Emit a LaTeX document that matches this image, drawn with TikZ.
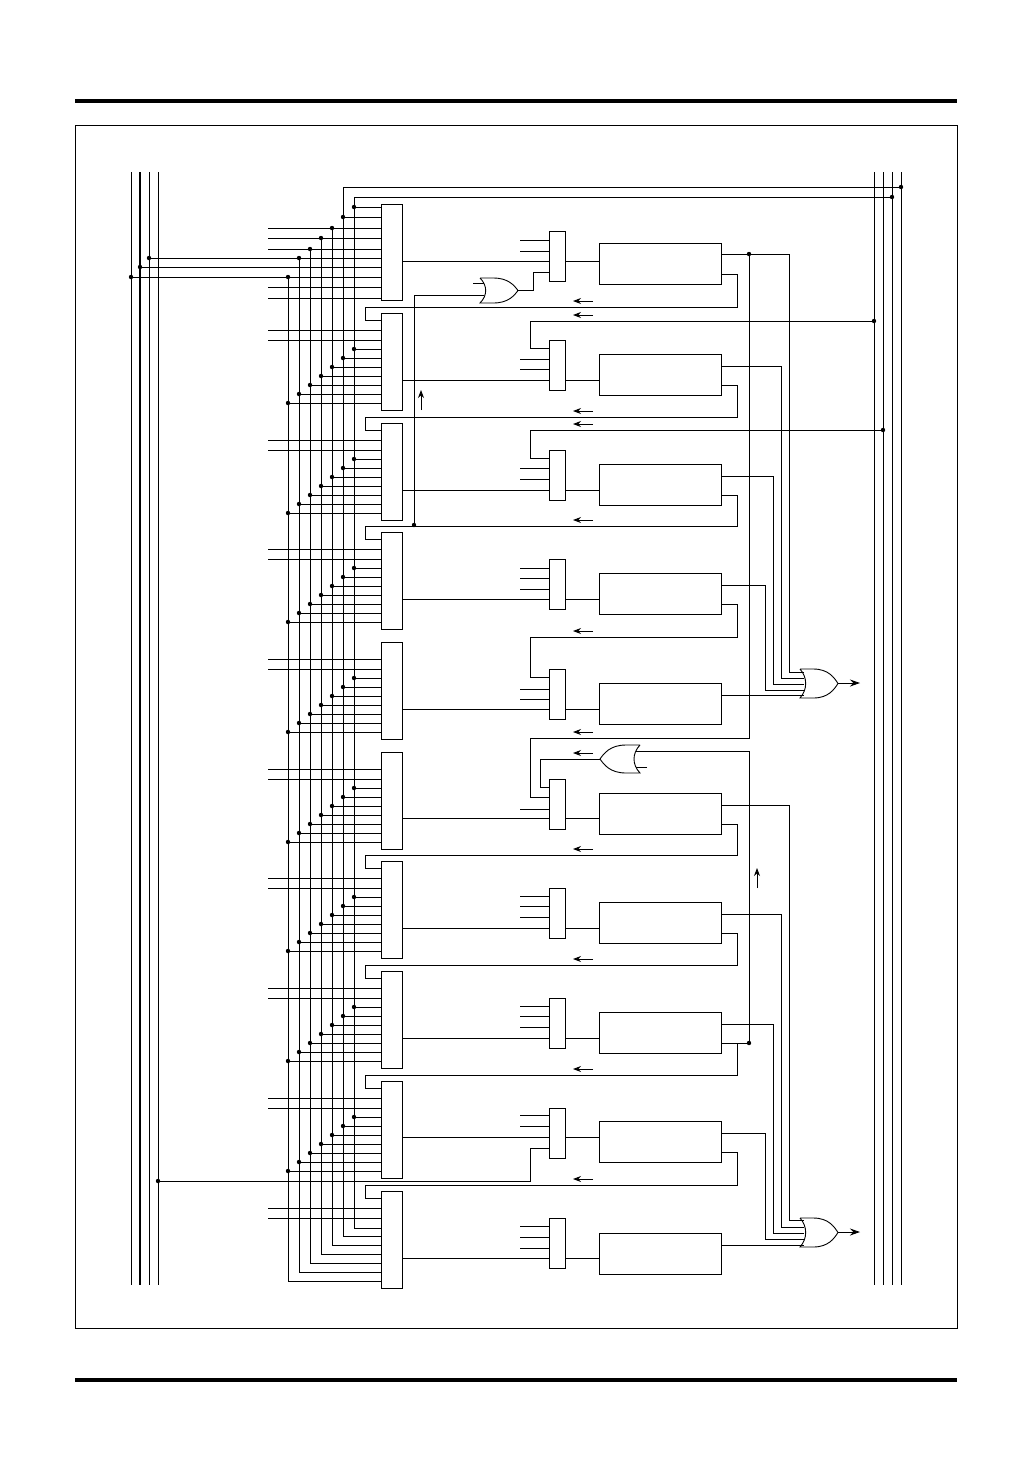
\documentclass[tikz,border=0pt]{standalone}
\usetikzlibrary{arrows.meta}
\newcommand\org[4]{% left x, top y, width, height
  \draw[wire] (#1,#2) -- ({#1+0.35*#3},#2) .. controls ({#1+0.75*#3},#2) and ({#1+0.9*#3},{#2+0.3*#4}) .. ({#1+#3},{#2+0.5*#4})
   .. controls ({#1+0.9*#3},{#2+0.7*#4}) and ({#1+0.75*#3},{#2+#4}) .. ({#1+0.35*#3},{#2+#4}) -- (#1,{#2+#4})
   .. controls ({#1+0.2*#3},{#2+0.7*#4}) and ({#1+0.2*#3},{#2+0.3*#4}) .. (#1,#2);}
\newcommand\orf[4]{% mirrored: right x, top y, width, height
  \draw[wire] (#1,#2) -- ({#1-0.35*#3},#2) .. controls ({#1-0.75*#3},#2) and ({#1-0.9*#3},{#2+0.3*#4}) .. ({#1-#3},{#2+0.5*#4})
   .. controls ({#1-0.9*#3},{#2+0.7*#4}) and ({#1-0.75*#3},{#2+#4}) .. ({#1-0.35*#3},{#2+#4}) -- (#1,{#2+#4})
   .. controls ({#1-0.2*#3},{#2+0.7*#4}) and ({#1-0.2*#3},{#2+0.3*#4}) .. (#1,#2);}
\begin{document}
\begin{tikzpicture}[x=0.5pt,y=-0.5pt,
  wire/.style={line width=0.45pt},
  dotj/.style={fill,circle,inner sep=0pt,minimum size=2.2pt},
  larr/.style={wire,-{Stealth[length=4pt,width=3pt]}},
  box/.style={wire}]
\useasboundingbox (0,0) rectangle (1032,1458);
% rules and frame
\draw[line width=1.6pt] (75,101) -- (957,101);
\draw[line width=1.6pt] (75,1380) -- (957,1380);
\draw[wire] (75,125) rectangle (957,1328);
% side buses
\foreach \x in {131,149,158,874,883,892,901} \draw[wire] (\x,172) -- (\x,1285);
\draw[line width=1pt] (140,172) -- (140,1285);
% top lines
\draw[wire] (343,217) -- (343,187) -- (901,187); \node[dotj] at (901,187) {};
\draw[wire] (354,207) -- (354,197) -- (892,197); \node[dotj] at (892,197) {};
% vertical bus lines
\foreach \x/\a/\b in {354/207/1228,343/217/1236,332/228/1245,321/238/1254,310/249/1263,299/258/1272,288/277/1281}
  {\draw[wire] (\x,\a) -- (\x,\b) -- (381,\b); \node[dotj] at (\x,\a) {};}
% block 1
\draw[box] (381,204) rectangle (402,300);
\draw[wire] (354,207) -- (381,207);
\draw[wire] (343,217) -- (381,217);
\foreach \y in {228,238,249,287,298} \draw[wire] (268,\y) -- (381,\y);
\draw[wire] (149,258) -- (381,258); \node[dotj] at (149,258) {};
\draw[wire] (140,267) -- (381,267); \node[dotj] at (140,267) {};
\draw[wire] (131,277) -- (381,277); \node[dotj] at (131,277) {};
% blocks 2..10
\foreach \T in {313,423,532,642,752,861,971,1081,1191} {
  \draw[box] (381,\T) rectangle (402,\T+97);
  \draw[wire] (268,\T+17) -- (381,\T+17);
  \draw[wire] (268,\T+27) -- (381,\T+27);
}
\foreach \T in {313,423,532,642,752,861,971,1081} {
  \foreach \i/\x in {0/354,1/343,2/332,3/321,4/310,5/299,6/288} {
    \draw[wire] (\x,\T+36+9*\i) -- (381,\T+36+9*\i);
    \node[dotj] at (\x,\T+36+9*\i) {};
  }
}
% rows: mux, register
\foreach \T/\B/\R in {204/261/243,313/380/354,423/490/464,532/599/573,642/709/683,752/818/793,861/928/902,971/1038/1012,1081/1137/1121,1191/1258/1233} {
  \draw[wire] (402,\B) -- (549,\B);
  \draw[box] (549,\T+27) rectangle (565,\T+77);
  \draw[wire] (565,\B) -- (599,\B);
  \draw[box] (599,\R) rectangle (721,\R+41);
}
% mux stubs
\foreach \y in {240,251, 359,369, 468,479, 568,578,589, 689,699, 809, 896,906,917, 1006,1016,1027, 1115,1126, 1226,1237,1248}
  \draw[wire] (520,\y) -- (549,\y);
% feedback loops into blocks
\foreach \R/\T in {243/313,354/423,464/532,793/861,902/971,1121/1191} {
  \draw[wire] (721,\R+31) -- (737,\R+31) -- (737,\T-6) -- (365,\T-6) -- (365,\T+7) -- (381,\T+7);
  \draw[larr] (593,\T-12) -- (573,\T-12);
}
\draw[wire] (721,1043) -- (749,1043);
\draw[wire] (737,1043) -- (737,1075) -- (365,1075) -- (365,1088) -- (381,1088);
\draw[larr] (593,1069) -- (573,1069);
% row 5 feed
\draw[wire] (721,604) -- (737,604) -- (737,637) -- (530,637) -- (530,677) -- (549,677);
\draw[larr] (593,631) -- (573,631);
% row 6 feed
\draw[wire] (749,254) -- (749,738) -- (530,738) -- (530,797) -- (549,797);
\node[dotj] at (749,254) {};
\draw[larr] (593,732) -- (573,732);
\draw[wire] (749,751) -- (749,1043); \node[dotj] at (749,1043) {};
% right bus feeds rows 2,3
\draw[wire] (874,321) -- (530,321) -- (530,348) -- (549,348); \node[dotj] at (874,321) {};
\draw[wire] (883,430) -- (530,430) -- (530,458) -- (549,458); \node[dotj] at (883,430) {};
\draw[larr] (593,315) -- (573,315);
\draw[larr] (593,424) -- (573,424);
% row 9 feed from left bus
\draw[wire] (158,1181) -- (530,1181) -- (530,1148) -- (549,1148); \node[dotj] at (158,1181) {};
% small OR gate 1
\org{480}{278}{38}{25}
\draw[wire] (518,290) -- (533,290) -- (533,272) -- (549,272);
\draw[wire] (473,283) -- (484,283);
\draw[wire] (414,525) -- (414,295) -- (484,295); \node[dotj] at (414,525) {};
\draw[larr] (421,410) -- (421,390);
% small OR gate 2 (mirrored)
\orf{640}{745}{40}{28}
\draw[wire] (600,759) -- (540,759) -- (540,787) -- (549,787);
\draw[wire] (749,751) -- (636,751);
\draw[wire] (647,767) -- (636,767);
\draw[larr] (593,753) -- (573,753);
\draw[larr] (757,888) -- (757,868);
% big OR gates
\org{800}{669}{38}{29}
\org{800}{1218}{38}{29}
\draw[wire,-{Stealth[length=5pt,width=3.5pt]}] (838,683) -- (860,683);
\draw[wire,-{Stealth[length=5pt,width=3.5pt]}] (838,1232) -- (860,1232);
\foreach \ya/\x/\yb in {254/789/672,366/781/678,476/773/684,585/765/690}
  \draw[wire] (721,\ya) -- (\x,\ya) -- (\x,\yb) -- (804,\yb);
\draw[wire] (721,695) -- (804,695);
\foreach \ya/\x/\yb in {805/789/1220,914/781/1227,1024/773/1233,1133/765/1239}
  \draw[wire] (721,\ya) -- (\x,\ya) -- (\x,\yb) -- (804,\yb);
\draw[wire] (721,1245) -- (804,1245);
\end{tikzpicture}
\end{document}
